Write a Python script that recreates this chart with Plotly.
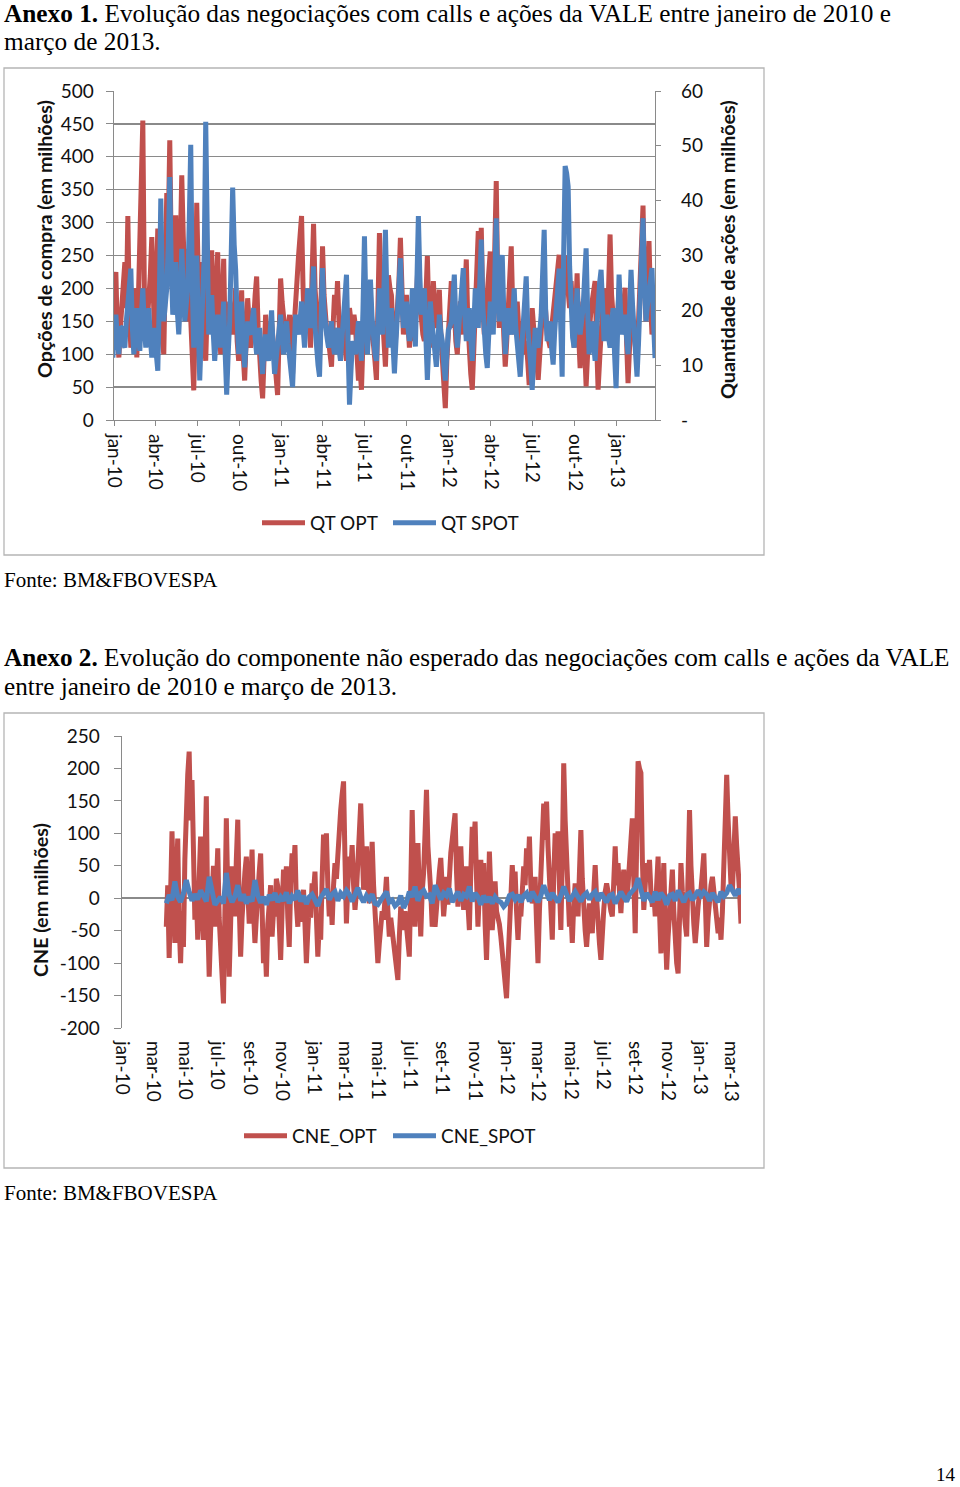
import plotly.graph_objects as go
import pandas as pd

# ---------------- data ----------------
# Chart 1: daily trading (sampled), Jan-2010 .. Mar-2013
qt_opt = [
    230, 150, 120, 190, 225, 130, 95, 140, 180, 210, 240, 170, 310, 160, 110, 130, 200, 150, 95, 180,
    290, 350, 455, 200, 120, 150, 180, 220, 278, 140, 110, 200, 291, 230, 160, 120, 100, 260, 345, 290,
    425, 250, 180, 230, 311, 200, 150, 260, 372, 280, 190, 150, 260, 200, 130, 90, 45, 150, 330, 220,
    150, 180, 240, 130, 90, 170, 255, 190, 258, 160, 120, 200, 255, 150, 100, 170, 245, 120, 80, 140,
    180, 150, 130, 160, 200, 120, 90, 140, 197, 100, 60, 120, 185, 150, 110, 130, 150, 190, 218, 140,
    90, 60, 33, 110, 160, 130, 110, 140, 150, 120, 90, 60, 38, 130, 215, 180, 150, 120, 110, 140,
    160, 100, 70, 140, 190, 220, 250, 280, 310, 200, 130, 170, 200, 150, 110, 220, 298, 200, 160, 130,
    100, 180, 264, 190, 150, 130, 120, 100, 81, 140, 190, 160, 211, 150, 120, 130, 150, 110, 90, 130,
    170, 150, 130, 160, 142, 100, 60, 80, 46, 120, 170, 140, 110, 150, 190, 140, 120, 90, 61, 150,
    284, 200, 150, 110, 81, 150, 220, 200, 190, 140, 100, 130, 160, 210, 277, 180, 130, 150, 190, 150,
    110, 140, 160, 120, 140, 200, 250, 180, 150, 130, 120, 180, 249, 160, 110, 150, 211, 170, 140, 160,
    198, 130, 100, 60, 18, 90, 130, 170, 211, 140, 170, 120, 100, 150, 180, 160, 130, 190, 244, 150,
    100, 70, 46, 110, 160, 220, 287, 200, 292, 180, 130, 160, 190, 220, 256, 180, 150, 260, 363, 200,
    140, 170, 200, 130, 81, 120, 170, 200, 264, 170, 130, 150, 180, 140, 110, 130, 150, 100, 120, 90,
    53, 110, 170, 140, 120, 90, 61, 110, 150, 170, 200, 150, 130, 120, 110, 140, 160, 190, 200, 220,
    251, 180, 150, 200, 250, 220, 200, 170, 211, 140, 110, 160, 223, 130, 79, 130, 180, 110, 51, 100,
    150, 160, 180, 200, 211, 120, 46, 90, 150, 170, 200, 150, 130, 200, 282, 190, 150, 130, 110, 150,
    200, 160, 140, 170, 201, 120, 56, 110, 180, 150, 130, 110, 90, 150, 220, 270, 326, 200, 150, 210,
    272, 180, 130, 140, 150,
]
qt_spot = [
    18.0, 14.0, 11.4, 16.0, 19.2, 15.0, 12.0, 17.0, 16.8, 14.0, 13.2, 18.0, 21.6, 25.0, 27.6, 17.0, 12.0, 15.0, 20.4, 16.0,
    12.6, 19.0, 24.0, 17.0, 13.2, 16.0, 20.4, 15.0, 11.4, 14.0, 16.8, 12.0, 9.0, 22.0, 40.4, 26.0, 18.0, 21.0, 24.0, 32.0,
    44.3, 28.0, 19.2, 22.0, 28.8, 20.0, 15.6, 22.0, 31.2, 24.0, 18.0, 21.0, 24.0, 36.0, 50.2, 25.0, 13.2, 20.0, 30.0, 18.0,
    7.2, 15.0, 21.6, 30.0, 54.4, 28.0, 15.6, 19.0, 22.8, 16.0, 10.8, 15.0, 19.2, 16.0, 13.2, 17.0, 21.6, 12.0, 4.6, 12.0,
    18.0, 30.0, 42.4, 32.0, 27.4, 18.0, 12.0, 16.0, 21.6, 14.0, 9.6, 14.0, 18.0, 16.0, 15.6, 18.0, 20.4, 15.0, 12.0, 14.0,
    16.8, 12.0, 8.4, 13.0, 15.6, 12.0, 10.8, 16.0, 20.0, 13.0, 8.4, 11.0, 14.4, 17.0, 19.2, 15.0, 12.0, 15.0, 18.0, 14.0,
    11.4, 9.0, 6.0, 13.0, 19.2, 17.0, 15.6, 18.0, 21.6, 17.0, 13.2, 18.0, 24.0, 19.0, 16.8, 22.0, 28.0, 17.0, 12.0, 10.0,
    7.9, 18.0, 27.7, 20.0, 16.8, 15.0, 13.2, 16.0, 18.0, 14.0, 12.0, 15.0, 16.8, 13.0, 10.8, 15.0, 19.2, 23.0, 26.5, 14.0,
    2.8, 9.0, 14.4, 13.0, 12.0, 15.0, 18.0, 14.0, 10.8, 20.0, 33.5, 20.0, 12.0, 18.0, 25.6, 19.0, 14.4, 12.0, 10.8, 17.0,
    24.0, 19.0, 15.6, 24.0, 34.7, 22.0, 13.2, 16.0, 20.4, 14.0, 8.5, 14.0, 19.2, 24.0, 29.5, 21.0, 16.8, 19.0, 21.6, 17.0,
    14.4, 18.0, 24.0, 18.0, 13.4, 25.0, 37.2, 26.0, 19.2, 21.0, 24.0, 15.0, 7.3, 14.0, 21.6, 18.0, 15.6, 12.0, 9.7, 14.0,
    19.2, 16.0, 14.4, 10.0, 7.2, 12.0, 16.4, 17.0, 18.0, 22.0, 26.5, 18.0, 13.2, 17.0, 21.6, 24.0, 27.7, 19.0, 14.4, 17.0,
    20.4, 15.0, 10.8, 17.0, 24.0, 20.0, 16.8, 25.0, 32.9, 21.0, 14.4, 12.0, 9.5, 15.0, 21.6, 18.0, 15.6, 26.0, 36.8, 24.0,
    18.0, 24.0, 30.1, 20.0, 12.0, 16.0, 20.4, 17.0, 15.6, 19.0, 24.0, 17.0, 13.2, 10.0, 7.9, 13.0, 18.0, 22.0, 26.2, 17.0,
    14.4, 10.0, 5.5, 12.0, 16.8, 14.0, 13.2, 16.0, 19.2, 27.0, 34.7, 20.0, 14.4, 16.0, 18.0, 13.0, 10.1, 16.0, 21.6, 24.0,
    27.6, 16.0, 7.9, 30.0, 46.3, 45.0, 42.6, 28.0, 18.0, 15.0, 13.2, 18.0, 24.0, 19.0, 15.6, 18.0, 20.4, 26.0, 31.3, 20.0,
    12.0, 15.0, 18.0, 14.0, 10.8, 16.0, 21.6, 25.0, 27.4, 19.0, 14.4, 17.0, 19.2, 15.0, 13.2, 17.0, 20.4, 12.0, 5.8, 16.0,
    26.5, 20.0, 15.6, 17.0, 19.2, 15.0, 12.0, 20.0, 27.4, 21.0, 16.8, 12.0, 7.9, 14.0, 21.6, 29.0, 36.8, 26.0, 18.0, 21.0,
    24.0, 26.0, 27.7, 18.0, 11.3,
]

# Chart 2: unexpected component (sampled), Mar-2010 .. Mar-2013
cne_opt = [
    -44, 20, -92, 40, 103, 10, -69, 30, 92, -40, -100, -20, -75, 60, 152, 190, 226, 120, 182, 40,
    -33, 10, -64, 30, 95, -20, -64, 60, 157, -30, -121, -50, 23, 50, -44, 10, 77, -30, -69, -100,
    -162, -20, 123, 10, -121, -40, 49, 20, -28, 60, 121, -10, -90, -30, 28, 40, 64, 10, -39, 20,
    75, -20, -69, -30, 18, 40, 69, -40, -100, -60, -121, -40, -8, 20, -59, -20, -28, 30, 18, -40,
    -95, -20, 44, 10, 49, -30, -75, 20, 69, 40, 82, -10, -44, 10, -36, -20, 13, -40, -100, -50,
    -8, -30, 23, 10, 41, -30, -90, -40, -64, 30, 98, 70, 100, 20, -28, 10, -41, 20, 54, 30,
    75, 110, 136, 160, 180, 60, -39, 20, 64, 40, 82, 20, -18, 10, 44, 100, 146, 60, 13, 40,
    80, 30, -8, 40, 87, 20, -28, -60, -100, -70, -49, -20, -33, 10, 33, -20, -59, -30, -49, -60,
    -80, -100, -126, -60, -13, -30, -49, -20, -39, -60, -90, 20, 136, 40, -44, 20, 85, 10, -59, 10,
    39, 100, 167, 80, 54, 10, -44, 0,
    -44, -10, 18, 40, 62, 10, -28, 0, 33, -10, 49, 70, 90, 110, 131, 40, -13, 30, 80, 20,
    -18, 20, 49, -10, -49, 40, 110, 80, 118, 30, -44, 10, 59, -10, 54, -40, -95, -20, 72, 10,
    -49, -10, 26, -20, -28, -40, -59, -80, -105, -130, -154, -100, -59, 0, 51, 10, 41, -20, -64, -20,
    -28, 10, 49, 20, 77, 40, 95, 20, -8, 10, 33, -40, -100, -20, 54, 100, 146, 90, 149, 80,
    28, -20, -64, 30, 100, 60, 103, 20, -49, 60, 208, 120, 59, 0, -44, -20, -69, -10, 23, 0,
    -28, 40, 105, 30, -33, -50, -75, -20, -8, -30, -54, 10, 51, 0, -49, -70, -95, -40, -18, 10,
    23, 10, -8, -20, -28, 30, 80, 20, 54, 10, -23, 20, 44, 10, -3, 20, 59, 90, 123, 30,
    -54, 80, 211, 200, 193, 60, -18, 20, 54, 30, 59, 10, -13, 10, -28, 20, 64, -20, -85, -10,
    54, -40, -110, -60, -28, 10, 44, -20, -75, -100, -116, -30, 54, 10, -28, -40, -59, 40, 136, 50,
    -18, -40, -69, -30, -13, 10, 13, 40, 69, 0, -75, -30, 13, 20, 33, 10, -28, -40, -54, -30,
    -64, -20, 44, 110, 190, 120, 59, 20, 13, 60, 126, 80, 54, 10, -39,
]
cne_spot = [
    -8, 5, -3, 26, 2, -6, 8, 28, 10, -4,
    6, -2, 12, 3, -5, 33, 8, -10, -4, 2,
    -8, 39, 5, -6, 3, 20, -4, 6, -8, 2,
    -5, 28, 4, -7, 2, -10, 5, -3, 8, -6,
    2, -4, 9, -8, 3, -2, 12, -5, 4, -9,
    2, 6, -3, -12, 1, 8, 14, -2, 6, 10,
    -4, 8, 3, 12, 6, -5, 8, 16, 2, -6,
    4, -2, 6, -8, -10, -4, 2, 10, -6, -3,
    -12, -8, 4, -15, -6, 10, 2, 18, -4, 8,
    12, 3, 5, -8,
    20, 6, -2, 8, 4, 15, -6, 2, 10, -4,
    6, 3, 18, -5, 8, 2, -10, 4, -6, 2,
    -8, 2, -4, -6, -13, -8, 4, 6, -2, 5,
    -6, 4, 8, -5, 10, 2, -6, 4, 20, 8,
    -3, 8, 2, -6, 4, 18, 6, -4, 3, 10,
    2, -5, 4, 8, -2, 6, 10, -4, 8, 2,
    -6, 4, 6, -8, 3, 10, 2, -5, 6, 12,
    16, 31, 12, -4, 8, 2, -6, 10, -3, 8,
    2, -10, 4, 6, -4, 12, 2, -6, 5, 8,
    -3, 6, 12, 4, 10, 6, -4, 8, 2, -6,
    10, 3, 8, 20, 12, 4, 14, 6,
]

ticks1_vals = ["2010-01-01", "2010-04-01", "2010-07-01", "2010-10-01",
               "2011-01-01", "2011-04-01", "2011-07-01", "2011-10-01",
               "2012-01-01", "2012-04-01", "2012-07-01", "2012-10-01",
               "2013-01-01"]
ticks1_text = ["jan-10", "abr-10", "jul-10", "out-10", "jan-11", "abr-11",
               "jul-11", "out-11", "jan-12", "abr-12", "jul-12", "out-12",
               "jan-13"]
ticks2_vals = ["2010-01-01", "2010-03-01", "2010-05-01", "2010-07-01",
               "2010-09-01", "2010-11-01", "2011-01-01", "2011-03-01",
               "2011-05-01", "2011-07-01", "2011-09-01", "2011-11-01",
               "2012-01-01", "2012-03-01", "2012-05-01", "2012-07-01",
               "2012-09-01", "2012-11-01", "2013-01-01", "2013-03-01"]
ticks2_text = ["jan-10", "mar-10", "mai-10", "jul-10", "set-10", "nov-10",
               "jan-11", "mar-11", "mai-11", "jul-11", "set-11", "nov-11",
               "jan-12", "mar-12", "mai-12", "jul-12", "set-12", "nov-12",
               "jan-13", "mar-13"]
right_vals = [0, 10, 20, 30, 40, 50, 60]
right_text = ["-", "10", "20", "30", "40", "50", "60"]
cne_vals = [-200, -150, -100, -50, 0, 50, 100, 150, 200, 250]
cne_text = ["-200", "-150", "-100", "-50", "0", "50", "100", "150", "200", "250"]

dates1_opt = pd.date_range("2009-12-23", "2013-03-25", periods=len(qt_opt))
dates1_spot = pd.date_range("2009-12-23", "2013-03-25", periods=len(qt_spot))
dates2_opt = pd.date_range("2010-03-26", "2013-03-20", periods=len(cne_opt))
dates2_spot = pd.date_range("2010-03-26", "2013-03-20", periods=len(cne_spot))

# ---------------- style ----------------
W, H = 960, 1487
RED = "#C0504D"
BLUE = "#4F81BD"
GRAY = "#8a8a8a"
AX_FONT = dict(family="Lato", size=19, color="#111")
SERIF = "Liberation Serif"
LW = 5


def px(x):
    return x / W


def py(y):
    return 1 - y / H


fig = go.Figure()
fig.add_trace(go.Scatter(x=dates1_opt, y=qt_opt, name="QT OPT", mode="lines",
                         line=dict(color=RED, width=LW), xaxis="x", yaxis="y",
                         legend="legend"))
fig.add_trace(go.Scatter(x=dates1_spot, y=qt_spot, name="QT SPOT", mode="lines",
                         line=dict(color=BLUE, width=LW), xaxis="x", yaxis="y2",
                         legend="legend"))
fig.add_trace(go.Scatter(x=dates2_opt, y=cne_opt, name="CNE_OPT", mode="lines",
                         line=dict(color=RED, width=LW), xaxis="x2", yaxis="y3",
                         legend="legend2"))
fig.add_trace(go.Scatter(x=dates2_spot, y=cne_spot, name="CNE_SPOT", mode="lines",
                         line=dict(color=BLUE, width=LW), xaxis="x2", yaxis="y3",
                         legend="legend2"))

layout = dict(
    width=W, height=H,
    template="none",
    margin=dict(l=0, r=0, t=0, b=0, pad=0, autoexpand=False),
    paper_bgcolor="white", plot_bgcolor="white",
    xaxis=dict(domain=[px(114), px(655)], anchor="y", type="date",
               range=["2010-01-01", "2013-03-25"],
               tickvals=ticks1_vals, ticktext=ticks1_text, tickangle=90,
               ticks="outside", ticklen=5, tickcolor=GRAY, showline=True,
               linecolor=GRAY, linewidth=1.3, showgrid=False, zeroline=False,
               tickfont=AX_FONT, ticklabelstandoff=4, automargin=False),
    yaxis=dict(domain=[py(420), py(91)], anchor="x", range=[0, 500],
               tick0=0, dtick=50, ticks="outside", ticklen=7, tickcolor=GRAY,
               showline=True, linecolor=GRAY, linewidth=1.3, showgrid=True,
               gridcolor=GRAY, gridwidth=1.3, zeroline=False,
               tickfont=AX_FONT, ticklabelstandoff=8, automargin=False),
    yaxis2=dict(overlaying="y", side="right", anchor="x", range=[0, 60],
                tickvals=right_vals, ticktext=right_text, ticks="outside",
                ticklen=5, tickcolor=GRAY, showline=True, linecolor=GRAY,
                linewidth=1.3, showgrid=False, zeroline=False,
                tickfont=AX_FONT, ticklabelstandoff=16, automargin=False),
    xaxis2=dict(domain=[px(122), px(741)], anchor="y3", type="date",
                range=["2010-01-01", "2013-03-20"],
                tickvals=ticks2_vals, ticktext=ticks2_text, tickangle=90,
                ticks="", showline=False, showgrid=False, zeroline=False,
                tickfont=AX_FONT, ticklabelstandoff=12, automargin=False),
    yaxis3=dict(domain=[py(1028), py(736)], anchor="x2", range=[-200, 250],
                tickvals=cne_vals, ticktext=cne_text, ticks="outside",
                ticklen=7, tickcolor=GRAY,
                showline=True, linecolor=GRAY, linewidth=1.3, showgrid=False,
                zeroline=True, zerolinecolor=GRAY, zerolinewidth=1.5,
                tickfont=AX_FONT, ticklabelstandoff=10, automargin=False),
    legend=dict(orientation="h", x=px(257), xanchor="left", y=py(523),
                yanchor="middle", font=AX_FONT, bgcolor="rgba(0,0,0,0)",
                entrywidth=73, entrywidthmode="pixels", itemwidth=43),
    legend2=dict(orientation="h", x=px(239), xanchor="left", y=py(1136),
                 yanchor="middle", font=AX_FONT, bgcolor="rgba(0,0,0,0)",
                 entrywidth=91, entrywidthmode="pixels", itemwidth=43),
    showlegend=True,
    hovermode=False,
)
fig.update_layout(**layout)

# chart frames
for (x0, y0, x1, y1) in [(4, 68, 764, 555), (4, 713, 764, 1168)]:
    fig.add_shape(type="rect", xref="paper", yref="paper",
                  x0=px(x0), x1=px(x1), y0=py(y1), y1=py(y0),
                  line=dict(color="#b5b5b5", width=1.3), layer="below")


def note(text, x, y, size=22, family=SERIF, xanchor="left", angle=0,
         color="#000"):
    fig.add_annotation(text=text, x=px(x), y=py(y), xref="paper", yref="paper",
                       xanchor=xanchor, yanchor="middle", showarrow=False,
                       textangle=angle,
                       font=dict(family=family, size=size, color=color))


note("<b>Anexo 1.</b> Evolução das negociações com calls e ações da VALE entre janeiro de 2010 e", 2, 13, size=25.3)
note("março de 2013.", 2, 41, size=25.3)
note("Fonte: BM&FBOVESPA", 2, 580, size=21)
note("<b>Anexo 2.</b> Evolução do componente não esperado das negociações com calls e ações da VALE", 2, 657, size=25.2)
note("entre janeiro de 2010 e março de 2013.", 2, 686, size=25.2)
note("Fonte: BM&FBOVESPA", 2, 1193, size=21)
note("14", 946, 1474, size=19, xanchor="center")

note("<b>Opções de compra (em milhões)</b>", 44, 239, size=19.7, family="Lato",
     xanchor="center", angle=-90, color="#111")
note("<b>Quantidade de ações (em milhões)</b>", 727, 250, size=19.7, family="Lato",
     xanchor="center", angle=-90, color="#111")
note("<b>CNE (em milhões)</b>", 40, 900, size=19.7, family="Lato",
     xanchor="center", angle=-90, color="#111")

fig.write_html(
    "out.html",
    config={"displayModeBar": False, "staticPlot": True},
    post_script="document.body.style.margin='0';document.body.style.overflow='hidden';",
)
